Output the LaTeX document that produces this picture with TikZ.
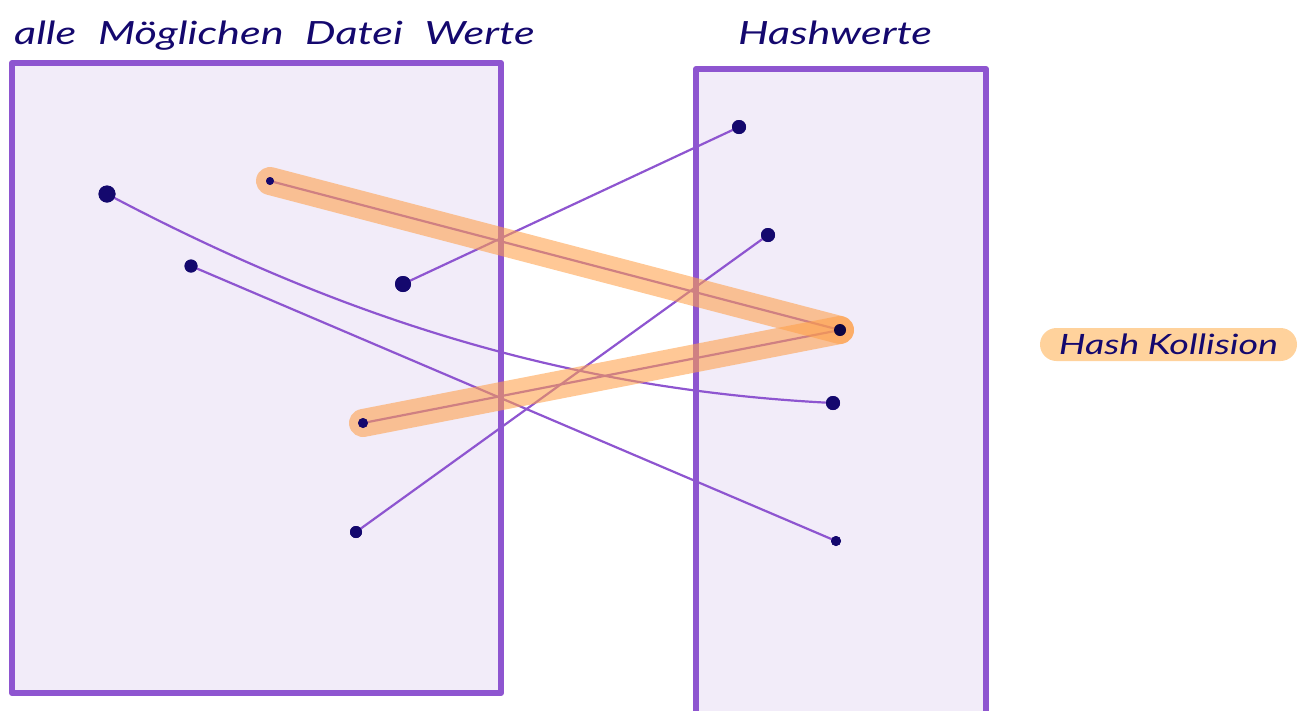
\documentclass[tikz,border=0pt]{standalone}
\usepackage{fontspec}
\setmainfont{Lato}
\definecolor{boxline}{HTML}{8E55D0}
\definecolor{boxfill}{HTML}{F2ECF9}
\definecolor{ink}{HTML}{14086E}
\definecolor{hlc}{HTML}{FFA04A}
\definecolor{pill}{HTML}{FFD29C}
\tikzset{
  setbox/.style={draw=boxline, fill=boxfill, line width=6pt, line join=round},
  conn/.style={draw=boxline, line width=2.2pt},
  hl/.style={draw=hlc, line width=28pt, line cap=round, draw opacity=0.58},
  pt/.style={circle, fill=ink, inner sep=0pt, minimum size=#1},
  pt/.default=13pt,
  title/.style={text=ink, font=\fontsize{32}{36}\selectfont\itshape, anchor=base west, inner sep=0pt}
}
\begin{document}
\begin{tikzpicture}[x=1pt,y=-1pt]
\useasboundingbox (0,0) rectangle (1307,710);
% boxes
\draw[setbox] (12,63) rectangle (501,693);
\draw[setbox] (696,69) rectangle (986,716);
% titles
\node[title] (t1) at (14,44) {\scalebox{1.35}[1]{alle\hspace{16pt}Möglichen\hspace{16pt}Datei\hspace{16pt}Werte}};
\node[title] (t2) at (738,44) {\scalebox{1.35}[1]{Hashwerte}};
% points
\node[pt=17pt] (a1) at (107,194) {};
\node[pt=13pt] (a2) at (191,266) {};
\node[pt=8pt]  (a3) at (270,181) {};
\node[pt=16pt] (a4) at (403,284) {};
\node[pt=10pt] (a5) at (363,423) {};
\node[pt=12pt] (a6) at (356,532) {};
\node[pt=14pt] (b1) at (739,127) {};
\node[pt=14pt] (b2) at (768,235) {};
\node[pt=12pt, fill=ink!60!black] (c) at (840,330) {};
\node[pt=14pt] (b4) at (833,403) {};
\node[pt=10pt] (b5) at (836,541) {};
% connectors
\draw[conn] (a1.center) .. controls (357,326.5) and (583,390.5) .. (b4.center);
\draw[conn] (a2.center) -- (b5.center);
\draw[conn] (a3.center) -- (c.center);
\draw[conn] (a4.center) -- (b1.center);
\draw[conn] (a5.center) -- (c.center);
\draw[conn] (a6.center) -- (b2.center);
% highlights
\draw[hl] (a3.center) -- (c.center);
\draw[hl] (a5.center) -- (c.center);
% redraw dots on top
\foreach \n/\s in {a1/17pt,a2/13pt,a3/8pt,a4/16pt,a5/10pt,a6/12pt,b1/14pt,b2/14pt,b4/14pt,b5/10pt}
  \fill[ink] (\n.center) circle[radius=\s/2];
\fill[ink!60!black] (c.center) circle[radius=6pt];
% label
\node[fill=pill, rounded corners=16.5pt, minimum width=257pt, minimum height=33pt, inner sep=0pt,
      text=ink, font=\fontsize{28}{32}\selectfont\itshape] (lab) at (1168.5,344.5) {\scalebox{1.35}[1]{Hash\hspace{6pt}Kollision}};
\end{tikzpicture}
\end{document}
